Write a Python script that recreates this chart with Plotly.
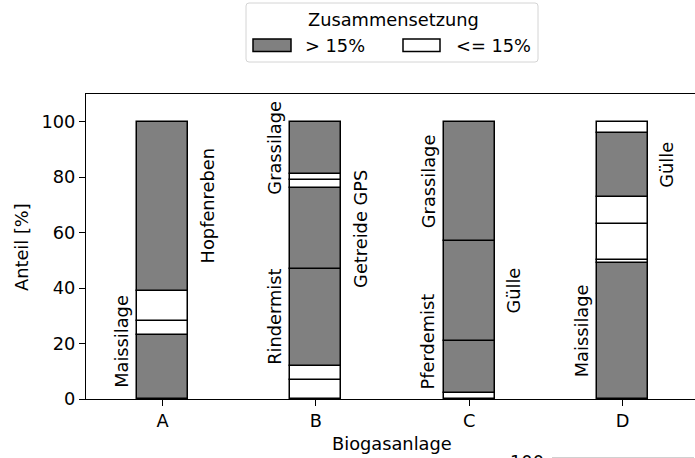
import plotly.graph_objects as go

# Biogas plants and the feedstock composition of each (percent shares, bottom to top)
plants = ["A", "B", "C", "D"]
shares_A = [23, 5, 11, 61]
shares_B = [7, 5, 35, 29, 3, 2, 19]
shares_C = [2, 19, 36, 43]
shares_D = [49, 1, 13, 10, 23, 4]
names_A = ["Maissilage", None, None, "Hopfenreben"]
names_B = [None, None, "Rindermist", "Getreide GPS", None, None, "Grassilage"]
names_C = [None, "Pferdemist", "Gülle", "Grassilage"]
names_D = ["Maissilage", None, None, None, "Gülle", None]

shares = [shares_A, shares_B, shares_C, shares_D]
names = [names_A, names_B, names_C, names_D]

threshold = 15
legend_labels = ["> 15%", "<= 15%"]
legend_title = "Zusammensetzung"
x_title = "Biogasanlage"
y_title = "Anteil [%]"
y_ticks = [0, 20, 40, 60, 80, 100]

W, H = 695, 458
L, R, T, B = 86, 0, 94, 59
FONT = "DejaVu Sans"
FS = 17.8
GRAY = "#808080"

plot_w = W - L - R
plot_h = H - T - B


def px(x):
    return (x - L) / plot_w


def py(y):
    return (H - B - y) / plot_h


fig = go.Figure()

annotations = []
for i, (plant, seg, nm) in enumerate(zip(plants, shares, names)):
    base = 0
    side = -1
    for v, n in zip(seg, nm):
        fig.add_trace(go.Bar(
            x=[i], y=[v], base=[base], width=0.333,
            marker=dict(color=GRAY if v > threshold else "white",
                        line=dict(color="black", width=1.5)),
            showlegend=False, hoverinfo="skip",
        ))
        if n:
            mid = max(base + v / 2, 20.7)
            dx = -0.27 if side < 0 else 0.29
            annotations.append(dict(
                x=i + dx, y=mid, xref="x", yref="y", text=n, textangle=-90,
                showarrow=False, font=dict(family=FONT, size=FS, color="black"),
                xanchor="center", yanchor="middle",
            ))
            side = -side
        base += v

# Axis titles
annotations.append(dict(x=px(391.7), y=py(443), xref="paper", yref="paper",
                        text=x_title, showarrow=False,
                        font=dict(family=FONT, size=FS, color="black"),
                        xanchor="center", yanchor="middle"))
annotations.append(dict(x=px(21), y=py(247), xref="paper", yref="paper",
                        text=y_title, showarrow=False, textangle=-90,
                        font=dict(family=FONT, size=FS, color="black"),
                        xanchor="center", yanchor="middle"))

# Legend drawn as a framed box above the axes
shapes = []
bx0, bx1, by0, by1, r = 246, 538, 3, 62, 3
path = (f"M {px(bx0 + r)},{py(by0)} L {px(bx1 - r)},{py(by0)} "
        f"Q {px(bx1)},{py(by0)} {px(bx1)},{py(by0 + r)} "
        f"L {px(bx1)},{py(by1 - r)} Q {px(bx1)},{py(by1)} {px(bx1 - r)},{py(by1)} "
        f"L {px(bx0 + r)},{py(by1)} Q {px(bx0)},{py(by1)} {px(bx0)},{py(by1 - r)} "
        f"L {px(bx0)},{py(by0 + r)} Q {px(bx0)},{py(by0)} {px(bx0 + r)},{py(by0)} Z")
shapes.append(dict(type="path", path=path, xref="paper", yref="paper",
                   line=dict(color="#d4d4d4", width=1), fillcolor="white"))
for (x0, x1), fill, lab, tx in [((253, 291), GRAY, legend_labels[0], 305),
                                 ((403, 440), "white", legend_labels[1], 456)]:
    shapes.append(dict(type="rect", xref="paper", yref="paper",
                       x0=px(x0), x1=px(x1), y0=py(39), y1=py(51.5),
                       fillcolor=fill, line=dict(color="black", width=1.5)))
    annotations.append(dict(x=px(tx - 2), y=py(45), xref="paper", yref="paper",
                            text=lab, showarrow=False,
                            font=dict(family=FONT, size=FS, color="black"),
                            xanchor="left", yanchor="middle"))
annotations.append(dict(x=px(393), y=py(20), xref="paper", yref="paper",
                        text=legend_title, showarrow=False,
                        font=dict(family=FONT, size=FS, color="black"),
                        xanchor="center", yanchor="middle"))

# Start of the following panel below the figure edge
annotations.append(dict(x=px(527), y=py(461), xref="paper", yref="paper",
                        text="100", showarrow=False,
                        font=dict(family=FONT, size=FS, color="black"),
                        xanchor="center", yanchor="middle"))
shapes.append(dict(type="line", xref="paper", yref="paper",
                   x0=px(552), x1=px(694), y0=py(457.5), y1=py(457.5),
                   line=dict(color="#d0d0d0", width=1)))

x_right = -0.5 + plot_w / (153.3)

fig.update_layout(
    width=W, height=H,
    margin=dict(l=L, r=R, t=T, b=B, pad=0),
    plot_bgcolor="white", paper_bgcolor="white",
    barmode="overlay", bargap=0,
    showlegend=False,
    font=dict(family=FONT, size=FS, color="black"),
    xaxis=dict(range=[-0.5, x_right], tickmode="array",
               tickvals=list(range(len(plants))), ticktext=plants,
               showline=True, linecolor="black", linewidth=1.2, mirror=True,
               ticks="outside", ticklen=6, tickwidth=1.2, tickcolor="black",
               showgrid=False, zeroline=False, fixedrange=True),
    yaxis=dict(range=[0, 110], tickvals=y_ticks,
               showline=True, linecolor="black", linewidth=1.2, mirror=False,
               ticks="outside", ticklen=6, tickwidth=1.2, tickcolor="black",
               showgrid=False, zeroline=False, fixedrange=True),
    annotations=annotations,
    shapes=shapes,
)

fig.write_html("out.html", config={"displayModeBar": False})
